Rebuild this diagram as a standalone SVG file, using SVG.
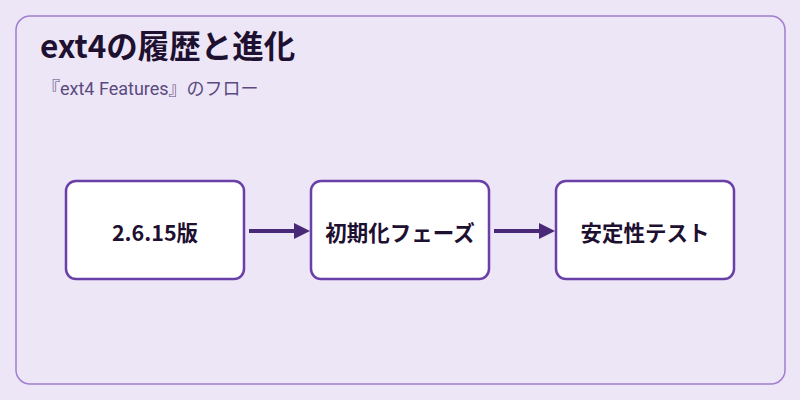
<svg xmlns="http://www.w3.org/2000/svg" width="800" height="400" viewBox="0 0 800 400">
<style>
.node rect{fill:#fff;stroke:#6a3fa8;stroke-width:2.5}
.node text{font-family:"Noto Sans CJK JP","Noto Sans",sans-serif;font-size:21.5px;font-weight:bold;fill:#1e1030;text-anchor:middle;dominant-baseline:central}
.edge{stroke:#4a2878;stroke-width:4;fill:none;marker-end:url(#ah)}
</style>
<defs><marker id="ah" markerWidth="4" markerHeight="4" refX="2" refY="2" orient="auto"><path d="M0,0L4,2L0,4z" fill="#4a2878"/></marker></defs>
<rect width="800" height="400" fill="#ede6f6"/>
<rect x="16" y="16" width="769" height="368" rx="14" fill="#ede6f6" stroke="#a07fd0" stroke-width="1.5"/>
<text x="40" y="58" font-family="'Noto Sans CJK JP','Noto Sans',sans-serif" font-size="31.5" font-weight="bold" fill="#1e1030">ext4の履歴と進化</text>
<text x="42" y="95" font-family="Roboto,'Noto Sans CJK JP',sans-serif" font-size="18" fill="#5a4a80">『ext4 Features』のフロー</text>
<g id="connectors">
<line class="edge" x1="249" y1="231" x2="302" y2="231"/>
<line class="edge" x1="494" y1="231" x2="547" y2="231"/>
</g>
<g id="n1" class="node"><rect x="66" y="181" width="178" height="98" rx="10"/><text x="155" y="231">2.6.15版</text></g>
<g id="n2" class="node"><rect x="311" y="181" width="178" height="98" rx="10"/><text x="400" y="231">初期化フェーズ</text></g>
<g id="n3" class="node"><rect x="556" y="181" width="178" height="98" rx="10"/><text x="645" y="231">安定性テスト</text></g>
</svg>
